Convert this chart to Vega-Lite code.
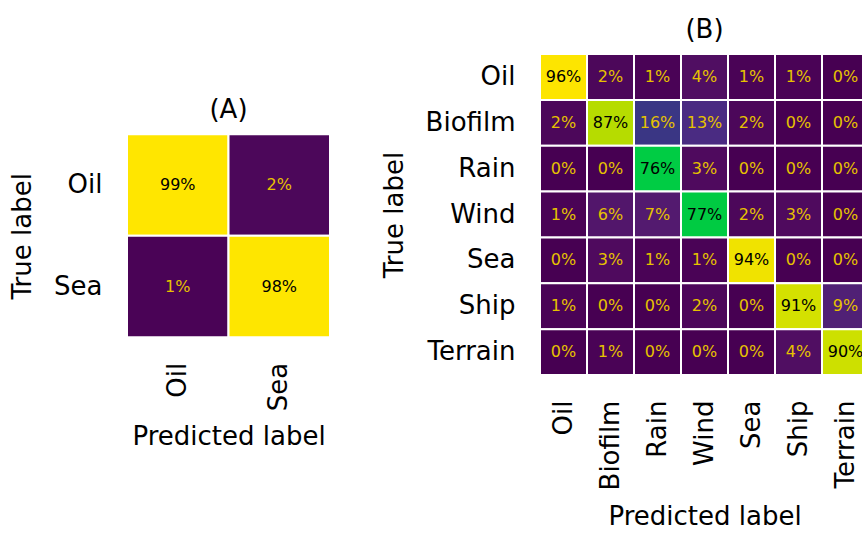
{
  "$schema": "https://vega.github.io/schema/vega-lite/v6.json",
  "padding": {"left": 9, "top": 17, "right": 0, "bottom": 0},
  "background": "white",
  "config": {
    "font": "DejaVu Sans",
    "view": {"stroke": null},
    "axis": {
      "labelFont": "DejaVu Sans",
      "titleFont": "DejaVu Sans",
      "labelFontSize": 26,
      "titleFontSize": 26,
      "titleFontWeight": "normal",
      "labelColor": "#000000",
      "titleColor": "#000000",
      "ticks": false,
      "domain": false,
      "grid": false
    },
    "title": {"font": "DejaVu Sans", "fontSize": 26, "fontWeight": "normal", "color": "#000000", "offset": 10}
  },
  "datasets": {
    "binary": [
      {"true": "Oil", "pred": "Oil", "v": 0.99},
      {"true": "Oil", "pred": "Sea", "v": 0.02},
      {"true": "Sea", "pred": "Oil", "v": 0.01},
      {"true": "Sea", "pred": "Sea", "v": 0.98}
    ],
    "multi": [
      {"true": "Oil", "pred": "Oil", "v": 0.96},
      {"true": "Oil", "pred": "Biofilm", "v": 0.02},
      {"true": "Oil", "pred": "Rain", "v": 0.01},
      {"true": "Oil", "pred": "Wind", "v": 0.04},
      {"true": "Oil", "pred": "Sea", "v": 0.01},
      {"true": "Oil", "pred": "Ship", "v": 0.01},
      {"true": "Oil", "pred": "Terrain", "v": 0.0},
      {"true": "Biofilm", "pred": "Oil", "v": 0.02},
      {"true": "Biofilm", "pred": "Biofilm", "v": 0.87},
      {"true": "Biofilm", "pred": "Rain", "v": 0.16},
      {"true": "Biofilm", "pred": "Wind", "v": 0.13},
      {"true": "Biofilm", "pred": "Sea", "v": 0.02},
      {"true": "Biofilm", "pred": "Ship", "v": 0.0},
      {"true": "Biofilm", "pred": "Terrain", "v": 0.0},
      {"true": "Rain", "pred": "Oil", "v": 0.0},
      {"true": "Rain", "pred": "Biofilm", "v": 0.0},
      {"true": "Rain", "pred": "Rain", "v": 0.76},
      {"true": "Rain", "pred": "Wind", "v": 0.03},
      {"true": "Rain", "pred": "Sea", "v": 0.0},
      {"true": "Rain", "pred": "Ship", "v": 0.0},
      {"true": "Rain", "pred": "Terrain", "v": 0.0},
      {"true": "Wind", "pred": "Oil", "v": 0.01},
      {"true": "Wind", "pred": "Biofilm", "v": 0.06},
      {"true": "Wind", "pred": "Rain", "v": 0.07},
      {"true": "Wind", "pred": "Wind", "v": 0.77},
      {"true": "Wind", "pred": "Sea", "v": 0.02},
      {"true": "Wind", "pred": "Ship", "v": 0.03},
      {"true": "Wind", "pred": "Terrain", "v": 0.0},
      {"true": "Sea", "pred": "Oil", "v": 0.0},
      {"true": "Sea", "pred": "Biofilm", "v": 0.03},
      {"true": "Sea", "pred": "Rain", "v": 0.01},
      {"true": "Sea", "pred": "Wind", "v": 0.01},
      {"true": "Sea", "pred": "Sea", "v": 0.94},
      {"true": "Sea", "pred": "Ship", "v": 0.0},
      {"true": "Sea", "pred": "Terrain", "v": 0.0},
      {"true": "Ship", "pred": "Oil", "v": 0.01},
      {"true": "Ship", "pred": "Biofilm", "v": 0.0},
      {"true": "Ship", "pred": "Rain", "v": 0.0},
      {"true": "Ship", "pred": "Wind", "v": 0.02},
      {"true": "Ship", "pred": "Sea", "v": 0.0},
      {"true": "Ship", "pred": "Ship", "v": 0.91},
      {"true": "Ship", "pred": "Terrain", "v": 0.09},
      {"true": "Terrain", "pred": "Oil", "v": 0.0},
      {"true": "Terrain", "pred": "Biofilm", "v": 0.01},
      {"true": "Terrain", "pred": "Rain", "v": 0.0},
      {"true": "Terrain", "pred": "Wind", "v": 0.0},
      {"true": "Terrain", "pred": "Sea", "v": 0.0},
      {"true": "Terrain", "pred": "Ship", "v": 0.04},
      {"true": "Terrain", "pred": "Terrain", "v": 0.9}
    ]
  },
  "spacing": 50,
  "center": true,
  "hconcat": [
    {
      "title": "(A)",
      "width": 203,
      "height": 203,
      "data": {"name": "binary"},
      "encoding": {
        "x": {
          "field": "pred", "type": "nominal", "sort": ["Oil", "Sea"],
          "scale": {"paddingInner": 0, "paddingOuter": 0},
          "axis": {"title": "Predicted label", "labelAngle": -90, "labelPadding": 25, "titlePadding": 13}
        },
        "y": {
          "field": "true", "type": "nominal", "sort": ["Oil", "Sea"],
          "scale": {"paddingInner": 0, "paddingOuter": 0},
          "axis": {"title": "True label", "labelPadding": 25, "titlePadding": 18}
        }
      },
      "layer": [
        {
          "mark": {"type": "rect", "stroke": "#ffffff", "strokeWidth": 2},
          "encoding": {
            "color": {
              "field": "v", "type": "quantitative", "legend": null,
              "scale": {
                "domain": [0, 0.03, 0.07, 0.13, 0.16, 0.76, 0.77, 0.87, 0.91, 0.94, 0.96, 1],
                "range": ["#470052", "#4f0a5e", "#531a6f", "#4a2b82", "#3a3684", "#00cc44", "#00cb42", "#b6dc00", "#d4e100", "#f0e300", "#fde500", "#ffe600"],
                "interpolate": "rgb"
              }
            }
          }
        },
        {
          "mark": {"type": "text", "fontSize": 16, "font": "DejaVu Sans"},
          "encoding": {
            "text": {"field": "v", "type": "quantitative", "format": ".0%"},
            "color": {
              "condition": {"test": "datum.v > 0.5", "value": "#000000"},
              "value": "#e6c200"
            }
          }
        }
      ]
    },
    {
      "title": "(B)",
      "width": 329,
      "height": 321,
      "data": {"name": "multi"},
      "encoding": {
        "x": {
          "field": "pred", "type": "nominal",
          "sort": ["Oil", "Biofilm", "Rain", "Wind", "Sea", "Ship", "Terrain"],
          "scale": {"paddingInner": 0, "paddingOuter": 0},
          "axis": {"title": "Predicted label", "labelAngle": -90, "labelPadding": 25, "titlePadding": 14}
        },
        "y": {
          "field": "true", "type": "nominal",
          "sort": ["Oil", "Biofilm", "Rain", "Wind", "Sea", "Ship", "Terrain"],
          "scale": {"paddingInner": 0, "paddingOuter": 0},
          "axis": {"title": "True label", "labelPadding": 25, "titlePadding": 18}
        }
      },
      "layer": [
        {
          "mark": {"type": "rect", "stroke": "#ffffff", "strokeWidth": 2},
          "encoding": {
            "color": {
              "field": "v", "type": "quantitative", "legend": null,
              "scale": {
                "domain": [0, 0.03, 0.07, 0.13, 0.16, 0.76, 0.77, 0.87, 0.91, 0.94, 0.96, 1],
                "range": ["#470052", "#4f0a5e", "#531a6f", "#4a2b82", "#3a3684", "#00cc44", "#00cb42", "#b6dc00", "#d4e100", "#f0e300", "#fde500", "#ffe600"],
                "interpolate": "rgb"
              }
            }
          }
        },
        {
          "mark": {"type": "text", "fontSize": 16, "font": "DejaVu Sans"},
          "encoding": {
            "text": {"field": "v", "type": "quantitative", "format": ".0%"},
            "color": {
              "condition": {"test": "datum.v > 0.5", "value": "#000000"},
              "value": "#e6c200"
            }
          }
        }
      ]
    }
  ]
}
